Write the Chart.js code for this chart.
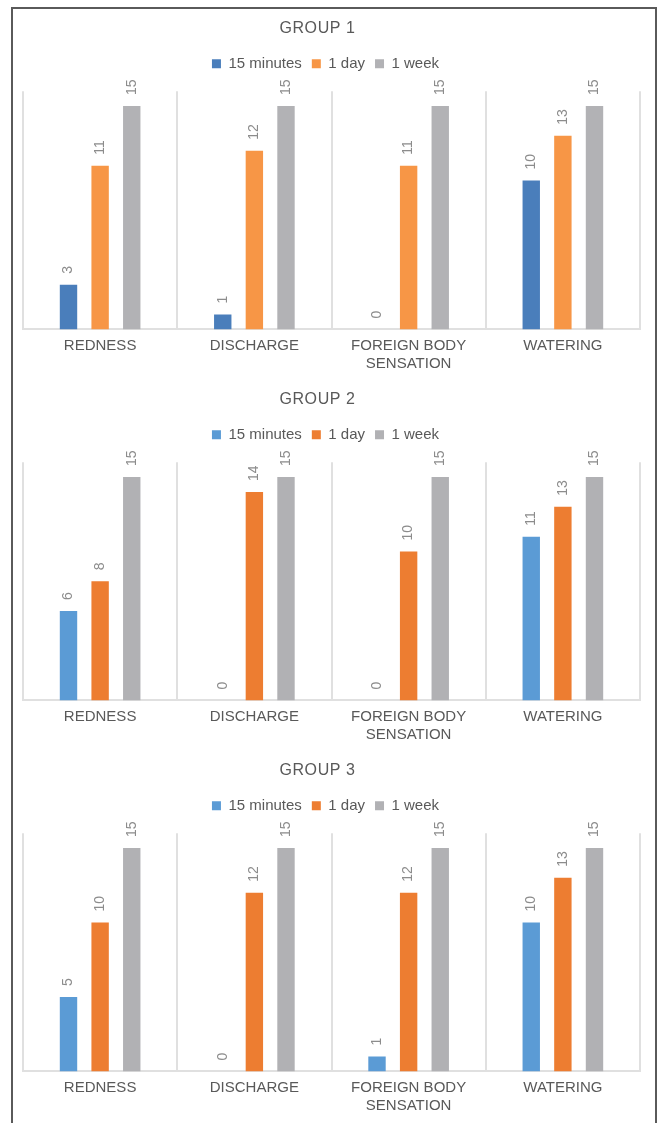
<!DOCTYPE html>
<html>
<head>
<meta charset="utf-8">
<script src="https://cdn.jsdelivr.net/npm/chart.js@4.4.0/dist/chart.umd.min.js"></script>
<style>
  body { margin: 0; background: #fff; width: 659px; height: 1123px; overflow: hidden; position: relative; }
  .frame { position: absolute; left: 11px; top: 7px; width: 642px; height: 1130px; border: 2px solid #5a5a5a; border-bottom: none; }
  canvas { position: absolute; left: 0; }
</style>
</head>
<body>
<div class="frame"></div>
<canvas id="group1" width="659" height="371" style="top:10px"></canvas>
<canvas id="group2" width="659" height="371" style="top:381px"></canvas>
<canvas id="group3" width="659" height="371" style="top:752px"></canvas>
<script>
const categories = ['REDNESS', 'DISCHARGE', ['FOREIGN BODY', 'SENSATION'], 'WATERING'];
const seriesNames = ['15 minutes', '1 day', '1 week'];

const group1Minutes = [3, 1, 0, 10];
const group1Day = [11, 12, 11, 13];
const group1Week = [15, 15, 15, 15];

const group2Minutes = [6, 0, 0, 11];
const group2Day = [8, 14, 10, 13];
const group2Week = [15, 15, 15, 15];

const group3Minutes = [5, 0, 1, 10];
const group3Day = [10, 12, 12, 13];
const group3Week = [15, 15, 15, 15];

const colorsOld = ['#4a7ebb', '#f79646', '#b2b2b5'];
const colorsNew = ['#5b9bd5', '#ed7d31', '#b1b1b4'];

const FONT = '"Liberation Sans", Arial, sans-serif';
const TEXT = '#595959';

// vertical value labels above each bar
const barLabels = {
  id: 'barLabels',
  afterDatasetsDraw(chart) {
    const ctx = chart.ctx;
    chart.data.datasets.forEach((ds, i) => {
      chart.getDatasetMeta(i).data.forEach((bar, j) => {
        ctx.save();
        ctx.translate(bar.x, bar.y - 11);
        ctx.rotate(-Math.PI / 2);
        ctx.font = '14px ' + FONT;
        ctx.fillStyle = '#8c8c8c';
        ctx.textAlign = 'left';
        ctx.textBaseline = 'middle';
        ctx.fillText(String(ds.data[j]), 0, 0);
        ctx.restore();
      });
    });
  }
};

// more room under the legend, and title/legend nudged left like the original
const headerTweaks = {
  id: 'headerTweaks',
  beforeInit(chart) {
    const legend = chart.legend;
    const fit = legend.fit;
    legend.fit = function () {
      fit.call(this);
      this.height += 10;
    };
    const legendDraw = legend.draw;
    legend.draw = function () {
      const ctx = chart.ctx;
      ctx.save();
      ctx.translate(-6, 0);
      legendDraw.call(this);
      ctx.restore();
    };
    const title = chart.titleBlock;
    const titleDraw = title.draw;
    title.draw = function () {
      const ctx = chart.ctx;
      ctx.save();
      ctx.translate(-14, 0);
      ctx.letterSpacing = '0.6px';
      titleDraw.call(this);
      ctx.restore();
    };
  }
};

function makeChart(id, title, values, colors) {
  const ctx = document.getElementById(id).getContext('2d');
  new Chart(ctx, {
    type: 'bar',
    data: {
      labels: categories,
      datasets: values.map((v, i) => ({
        label: seriesNames[i],
        data: v,
        backgroundColor: colors[i],
        borderWidth: 0,
        categoryPercentage: 0.615,
        barPercentage: 0.55,
      })),
    },
    options: {
      responsive: false,
      animation: false,
      layout: { padding: { left: 23, right: 19, top: 0, bottom: 1 } },
      plugins: {
        title: {
          display: true,
          text: title,
          color: TEXT,
          font: { family: FONT, size: 16, weight: 'normal', lineHeight: 1.2 },
          padding: { top: 9, bottom: 8 },
        },
        legend: {
          position: 'top',
          labels: {
            color: TEXT,
            font: { family: FONT, size: 15 },
            boxWidth: 9,
            boxHeight: 9,
            padding: 10,
          },
        },
        tooltip: { enabled: false },
      },
      scales: {
        x: {
          grid: { color: '#e0e0e0', lineWidth: 2, drawTicks: false, offset: true },
          border: { color: '#e0e0e0', width: 2 },
          ticks: {
            color: TEXT,
            font: { family: FONT, size: 15, lineHeight: 1.22 },
            padding: 7,
            maxRotation: 0,
            autoSkip: false,
          },
        },
        y: {
          display: false,
          min: 0,
          max: 16,
        },
      },
    },
    plugins: [headerTweaks, barLabels],
  });
}

makeChart('group1', 'GROUP 1', [group1Minutes, group1Day, group1Week], colorsOld);
makeChart('group2', 'GROUP 2', [group2Minutes, group2Day, group2Week], colorsNew);
makeChart('group3', 'GROUP 3', [group3Minutes, group3Day, group3Week], colorsNew);
</script>
</body>
</html>
